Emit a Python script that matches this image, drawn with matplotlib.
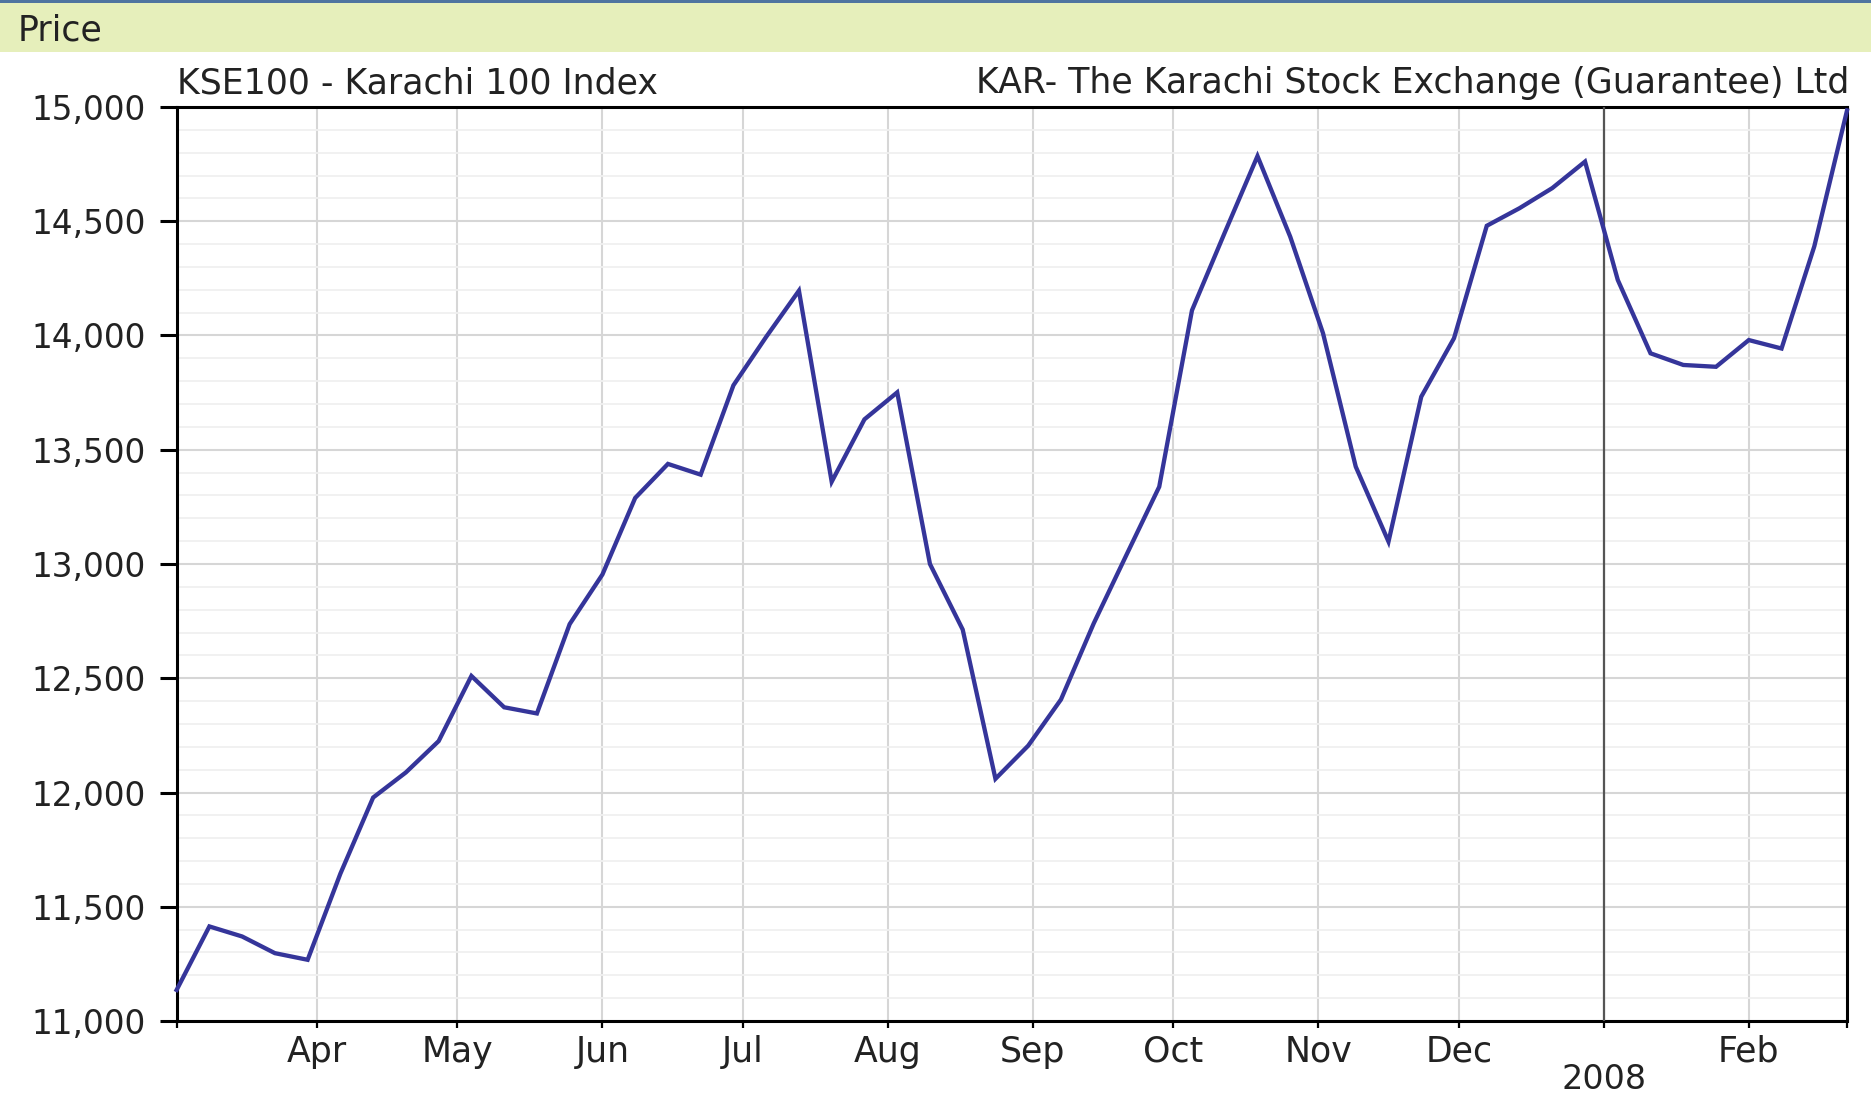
import matplotlib
matplotlib.use("Agg")
import matplotlib.pyplot as plt
import pandas as pd
from matplotlib.patches import Rectangle
from matplotlib.ticker import MultipleLocator, FuncFormatter

plt.rcParams['font.family'] = ['DejaVu Sans']

# weekly closes of the KSE100, first week ending 2 Mar 2007
start_date = "2007-03-02"
kse100 = [11136, 11414, 11370, 11297, 11268, 11645, 11978, 12088, 12225, 12510,
          12373, 12346, 12737, 12954, 13289, 13438, 13391, 13782, 13994, 14196,
          13360, 13633, 13751, 13000, 12713, 12060, 12205, 12407, 12740, 13040,
          13338, 14110, 14450, 14785, 14432, 14010, 13426, 13098, 13732, 13988,
          14480, 14557, 14645, 14761, 14243, 13922, 13871, 13863, 13980, 13943,
          14390, 14985]
month_ticks = ["2007-04-01", "2007-05-01", "2007-06-01", "2007-07-01", "2007-08-01",
               "2007-09-01", "2007-10-01", "2007-11-01", "2007-12-01", "2008-01-01",
               "2008-02-01"]
month_labels = ["Apr", "May", "Jun", "Jul", "Aug", "Sep", "Oct", "Nov", "Dec", "", "Feb"]
year_label = "2008"

dates = pd.date_range(start_date, periods=len(kse100), freq="7D")
ticks = pd.to_datetime(month_ticks)

fs = 23.5     # y tick labels
fs_t = 25     # titles and month labels
txt = "#222222"

fig = plt.figure(figsize=(18.71, 10.96), dpi=100)
ax = fig.add_axes([0.0944, 0.0684, 0.8928, 0.834])

# header strip
fig.patches.append(Rectangle((0, 0.9526), 1, 0.0474, transform=fig.transFigure,
                             facecolor="#e6efbb", edgecolor="none", zorder=0))
fig.patches.append(Rectangle((0, 0.9975), 1, 0.0025, transform=fig.transFigure,
                             facecolor="#4f74a0", edgecolor="none", zorder=1))
fig.text(0.0096, 0.9726, "Price", fontsize=fs_t, color=txt, va="center", ha="left")

ax.plot(dates, kse100, color="#35359a", lw=3.1, solid_joinstyle="miter", zorder=4,
        clip_on=False)

ax.set_xlim(dates[0], dates[-1])
ax.set_ylim(11000, 15000)

ax.yaxis.set_major_locator(MultipleLocator(500))
ax.yaxis.set_minor_locator(MultipleLocator(100))
ax.yaxis.set_major_formatter(FuncFormatter(lambda v, p: f"{int(v):,}"))
ax.grid(True, which="major", axis="y", color="#d6d6d6", lw=1.5, zorder=1)
ax.grid(True, which="minor", axis="y", color="#f0f0f0", lw=1.3, zorder=0)

ax.set_xticks(ticks)
ax.set_xticklabels(month_labels)
ax.set_xticks([dates[0], dates[-1]], minor=True)
ax.grid(True, which="major", axis="x", color="#d6d6d6", lw=1.5, zorder=1)

# year boundary
ax.axvline(ticks[9], color="#555555", lw=1.6, zorder=3)
ax.xaxis.get_major_ticks()[9].tick1line.set_markersize(28)
ax.text(ticks[9], -0.0635, year_label, transform=ax.get_xaxis_transform(),
        ha="center", va="center", fontsize=24, color=txt)

ax.tick_params(axis="y", which="major", length=12, width=2.2, pad=10,
               labelsize=fs, labelcolor=txt)
ax.tick_params(axis="y", which="minor", length=0)
ax.tick_params(axis="x", which="both", length=5, width=1.6, pad=5,
               labelsize=fs_t, labelcolor=txt)

for s in ax.spines.values():
    s.set_color("black")
    s.set_linewidth(2.2)

ax.text(0, 1.0257, "KSE100 - Karachi 100 Index", transform=ax.transAxes,
        ha="left", va="center", fontsize=fs_t, color=txt)
ax.text(1.0015, 1.0257, "KAR- The Karachi Stock Exchange (Guarantee) Ltd",
        transform=ax.transAxes, ha="right", va="center", fontsize=fs_t, color=txt)

fig.savefig("out.png", dpi=100)
